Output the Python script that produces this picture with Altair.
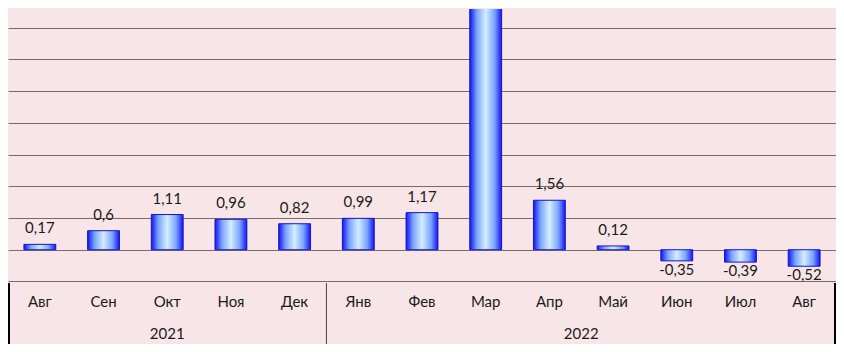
import altair as alt
import pandas as pd

months = ["Авг", "Сен", "Окт", "Ноя", "Дек", "Янв", "Фев", "Мар", "Апр", "Май", "Июн", "Июл", "Авг"]
years = ["2021"] * 5 + ["2022"] * 8
values = [0.17, 0.6, 1.11, 0.96, 0.82, 0.99, 1.17, 7.61, 1.56, 0.12, -0.35, -0.39, -0.52]
labels = ["0,17", "0,6", "1,11", "0,96", "0,82", "0,99", "1,17", "7,61", "1,56", "0,12", "-0,35", "-0,39", "-0,52"]
year_names = ["2021", "2022"]

W, H = 828, 336
FONT = "Lato"
FS = 15
keys = [f"{m} {y} {i}" for i, (m, y) in enumerate(zip(months, years))]
df = pd.DataFrame({"key": keys, "month": months, "year": years, "value": values, "label": labels})

YMIN, YMAX = -2.94, 7.59
step = W / len(keys)
split = step * years.count("2021")
table_top = H * (YMAX + 1) / (YMAX - YMIN)
row1 = H * 307 / 352
row2 = H * 340 / 352
year_x = [split / 2, (split + W) / 2]

x = alt.X("key:N", sort=keys, axis=None,
          scale=alt.Scale(domain=keys, paddingInner=0.5, paddingOuter=0.25))
yscale = alt.Scale(domain=[YMIN, YMAX], nice=False, zero=False)

base = alt.Chart(df)

grad = alt.LinearGradient(
    gradient="linear", x1=0, x2=1, y1=0, y2=0,
    stops=[alt.GradientStop(color="#1414f0", offset=0),
           alt.GradientStop(color="#7aa4ff", offset=0.22),
           alt.GradientStop(color="#d4eeff", offset=0.5),
           alt.GradientStop(color="#7aa4ff", offset=0.78),
           alt.GradientStop(color="#1414f0", offset=1)])

grid = base.mark_bar(opacity=0).encode(
    x=x,
    y=alt.Y("value:Q", scale=yscale,
            axis=alt.Axis(values=[-1, 0, 1, 2, 3, 4, 5, 6, 7], grid=True, gridColor="#7a6a6c",
                          gridWidth=1, gridOpacity=1, labels=False, ticks=False, domain=False,
                          title=None)),
)

bars = base.mark_bar(color=grad, stroke="#1414c8", strokeWidth=1, clip=True).encode(
    x=x, y=alt.Y("value:Q", scale=yscale), y2=alt.datum(0)
)

# labels whose position would fall above the visible top are not shown (as in the reference)
pos = base.transform_filter(f"datum.value >= 0 && datum.value < {YMAX - 0.6}").mark_text(
    font=FONT, fontSize=FS, color="#1a1a1a", baseline="alphabetic", dy=-11
).encode(x=x, y=alt.Y("value:Q", scale=yscale), text="label:N")

neg = base.transform_filter("datum.value < 0").mark_text(
    font=FONT, fontSize=FS, color="#1a1a1a", baseline="top", dy=2
).encode(x=x, y=alt.Y("value:Q", scale=yscale), text="label:N")

month_text = base.mark_text(font=FONT, fontSize=FS, color="#1a1a1a", baseline="middle").encode(
    x=x, y=alt.value(row1), text="month:N"
)

year_texts = [
    alt.Chart(pd.DataFrame({"year": [yn]})).mark_text(
        font=FONT, fontSize=FS, color="#1a1a1a", baseline="middle"
    ).encode(x=alt.value(xx), y=alt.value(row2), text="year:N")
    for yn, xx in zip(year_names, year_x)
]

ydf = pd.DataFrame({"year": year_names})
sep = alt.Chart(ydf).mark_rule(color="#5a4a4c", strokeWidth=1).encode(
    x=alt.value(split), y=alt.value(table_top), y2=alt.value(H)
)
left = alt.Chart(ydf).mark_rule(color="#000000", strokeWidth=2).encode(
    x=alt.value(1), y=alt.value(table_top), y2=alt.value(H)
)
right = alt.Chart(ydf).mark_rule(color="#000000", strokeWidth=2).encode(
    x=alt.value(W - 1), y=alt.value(table_top), y2=alt.value(H)
)

chart = alt.layer(grid, bars, pos, neg, month_text, *year_texts, sep, left, right).properties(
    width=W, height=H, background="#f8e5e7", padding=0,
    autosize=alt.AutoSizeParams(type="fit", contains="padding"),
).configure_view(stroke=None)

chart.save("out.html", embed_options={"renderer": "svg", "actions": False})
